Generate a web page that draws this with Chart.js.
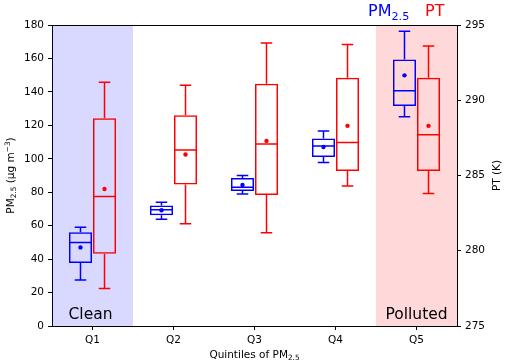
<!DOCTYPE html>
<html>
<head>
<meta charset="utf-8">
<script src="https://cdn.jsdelivr.net/npm/chart.js@4.4.1/dist/chart.umd.min.js"></script>
<style>
  body { margin: 0; background: #fff; }
  canvas { display: block; }
</style>
</head>
<body>
<canvas id="boxChart" width="505" height="363"></canvas>
<script>
// Quintile categories
const quintiles = ['Q1', 'Q2', 'Q3', 'Q4', 'Q5'];

// PM2.5 box stats (ug m-3, left axis)
const pmMin  = [27.5, 63.8, 79.0, 97.7, 125.2];
const pmQ1   = [37.7, 66.2, 80.7, 101.1, 131.6];
const pmMed  = [50.0, 69.5, 83.0, 107.7, 140.7];
const pmQ3   = [56.0, 72.0, 88.5, 112.2, 159.3];
const pmMax  = [59.0, 74.0, 90.0, 116.6, 176.2];
const pmMean = [47.0, 69.2, 84.3, 107.0, 149.9];

// PT box stats (K, right axis)
const ptMin  = [277.5, 281.8, 281.2, 284.3, 283.8];
const ptQ1   = [279.8, 284.4, 283.7, 285.3, 285.3];
const ptMed  = [283.6, 286.7, 287.1, 287.2, 287.7];
const ptQ3   = [288.8, 289.0, 291.1, 291.5, 291.5];
const ptMax  = [291.2, 291.0, 293.8, 293.7, 293.6];
const ptMean = [284.1, 286.4, 287.3, 288.3, 288.3];

// Axis ticks
const pmTicks = [0, 180, 20];
const ptTicks = [275, 295, 5];

const FONT = 'DejaVu Sans';

// draws text with sub/superscript parts
function drawRich(ctx, parts, x, y, size, color, align) {
    const small = size * 0.7;
    let total = 0;
    parts.forEach(p => {
        ctx.font = (p[1] === 'n' ? size : small) + 'px "' + FONT + '"';
        total += ctx.measureText(p[0]).width;
    });
    let cx = align === 'center' ? x - total / 2 : (align === 'right' ? x - total : x);
    ctx.fillStyle = color;
    ctx.textAlign = 'left';
    ctx.textBaseline = 'alphabetic';
    parts.forEach(p => {
        let dy = 0;
        if (p[1] === 'sub') dy = size * 0.22;
        if (p[1] === 'sup') dy = -size * 0.38;
        ctx.font = (p[1] === 'n' ? size : small) + 'px "' + FONT + '"';
        ctx.fillText(p[0], cx, y + dy);
        cx += ctx.measureText(p[0]).width;
    });
}

const boxExtras = {
    id: 'boxExtras',
    beforeDatasetsDraw(chart) {
        const { ctx, chartArea, scales } = chart;
        const x = scales.x;
        const half = (x.getPixelForValue(1) - x.getPixelForValue(0)) / 2;
        ctx.save();
        ctx.fillStyle = 'rgba(0, 0, 255, 0.15)';
        const cleanRight = x.getPixelForValue(0) + half;
        ctx.fillRect(chartArea.left, chartArea.top, cleanRight - chartArea.left, chartArea.bottom - chartArea.top);
        ctx.fillStyle = 'rgba(255, 0, 0, 0.15)';
        const polLeft = x.getPixelForValue(4) - half;
        ctx.fillRect(polLeft, chartArea.top, chartArea.right - polLeft, chartArea.bottom - chartArea.top);
        ctx.restore();
    },
    afterDatasetsDraw(chart) {
        const { ctx } = chart;
        chart.data.datasets.forEach((ds, di) => {
            const meta = chart.getDatasetMeta(di);
            const ys = chart.scales[ds.yAxisID];
            ctx.save();
            ctx.strokeStyle = ds.borderColor;
            ctx.fillStyle = ds.borderColor;
            ctx.lineWidth = 1.5;
            meta.data.forEach((bar, i) => {
                const cx = bar.x;
                const w = bar.width;
                const yMin = ys.getPixelForValue(ds.stats.min[i]);
                const yMax = ys.getPixelForValue(ds.stats.max[i]);
                const yQ1 = ys.getPixelForValue(ds.stats.q1[i]);
                const yQ3 = ys.getPixelForValue(ds.stats.q3[i]);
                const yMed = ys.getPixelForValue(ds.stats.med[i]);
                const yMean = ys.getPixelForValue(ds.stats.mean[i]);
                ctx.beginPath();
                // whiskers
                ctx.moveTo(cx, yQ3); ctx.lineTo(cx, yMax);
                ctx.moveTo(cx, yQ1); ctx.lineTo(cx, yMin);
                // caps
                ctx.moveTo(cx - w / 4, yMax); ctx.lineTo(cx + w / 4, yMax);
                ctx.moveTo(cx - w / 4, yMin); ctx.lineTo(cx + w / 4, yMin);
                // median
                ctx.moveTo(cx - w / 2, yMed); ctx.lineTo(cx + w / 2, yMed);
                ctx.stroke();
                // mean
                ctx.beginPath();
                ctx.arc(cx, yMean, 2.2, 0, Math.PI * 2);
                ctx.fill();
            });
            ctx.restore();
        });
    },
    afterDraw(chart) {
        const { ctx, chartArea, scales } = chart;
        const x = scales.x;
        ctx.save();
        // top spine
        ctx.strokeStyle = '#000';
        ctx.lineWidth = 1;
        ctx.beginPath();
        ctx.moveTo(chartArea.left, chartArea.top + 0.5);
        ctx.lineTo(chartArea.right, chartArea.top + 0.5);
        ctx.stroke();

        // region labels
        ctx.font = '15.5px "' + FONT + '"';
        ctx.fillStyle = '#000';
        ctx.textAlign = 'center';
        ctx.textBaseline = 'alphabetic';
        ctx.fillText('Clean', x.getPixelForValue(0) - 2, chartArea.bottom - 7);
        ctx.fillText('Polluted', x.getPixelForValue(4), chartArea.bottom - 7);

        // series labels above the plot
        drawRich(ctx, [['PM', 'n'], ['2.5', 'sub']], 368, 16, 16, '#0000ff', 'left');
        drawRich(ctx, [['PT', 'n']], 425, 16, 16, '#ff0000', 'left');

        // x title
        drawRich(ctx, [['Quintiles of PM', 'n'], ['2.5', 'sub']], (chartArea.left + chartArea.right) / 2, 358, 10.5, '#000', 'center');

        // left y title
        const midY = (chartArea.top + chartArea.bottom) / 2;
        ctx.save();
        ctx.translate(14, midY);
        ctx.rotate(-Math.PI / 2);
        drawRich(ctx, [['PM', 'n'], ['2.5', 'sub'], [' (\u03bcg m', 'n'], ['\u22123', 'sup'], [')', 'n']], 0, 0, 10.5, '#000', 'center');
        ctx.restore();

        // right y title
        ctx.save();
        ctx.translate(500, midY);
        ctx.rotate(-Math.PI / 2);
        drawRich(ctx, [['PT (K)', 'n']], 0, 0, 10.5, '#000', 'center');
        ctx.restore();
        ctx.restore();
    }
};

const tickFont = { family: FONT, size: 10.5 };
Chart.defaults.color = '#000';

const ctx = document.getElementById('boxChart');
new Chart(ctx, {
    type: 'bar',
    data: {
        labels: quintiles,
        datasets: [{
            label: 'PM2.5',
            data: quintiles.map((q, i) => [pmQ1[i], pmQ3[i]]),
            stats: { min: pmMin, q1: pmQ1, med: pmMed, q3: pmQ3, max: pmMax, mean: pmMean },
            yAxisID: 'y',
            borderColor: '#0000ff',
            backgroundColor: 'rgba(0, 0, 0, 0)',
            borderWidth: 1.5,
            borderSkipped: false
        }, {
            label: 'PT',
            data: quintiles.map((q, i) => [ptQ1[i], ptQ3[i]]),
            stats: { min: ptMin, q1: ptQ1, med: ptMed, q3: ptQ3, max: ptMax, mean: ptMean },
            yAxisID: 'y2',
            borderColor: '#ff0000',
            backgroundColor: 'rgba(0, 0, 0, 0)',
            borderWidth: 1.5,
            borderSkipped: false
        }]
    },
    options: {
        responsive: false,
        animation: false,
        events: [],
        categoryPercentage: 0.593,
        barPercentage: 0.96,
        layout: { padding: { top: 25, left: 0, right: 0, bottom: 0 } },
        plugins: {
            legend: { display: false },
            tooltip: { enabled: false }
        },
        scales: {
            x: {
                grid: { display: true, drawOnChartArea: false, offset: false, tickLength: 4, color: '#000' },
                border: { display: true, color: '#000', width: 1 },
                ticks: { font: tickFont, padding: 4, color: '#000' },
                afterFit(s) { s.height = 37; }
            },
            y: {
                position: 'left',
                min: pmTicks[0],
                max: pmTicks[1],
                grid: { display: true, drawOnChartArea: false, tickLength: 4, color: '#000' },
                border: { display: true, color: '#000', width: 1 },
                ticks: { stepSize: pmTicks[2], font: tickFont, padding: 4, color: '#000' },
                afterFit(s) { s.width = 52; }
            },
            y2: {
                position: 'right',
                min: ptTicks[0],
                max: ptTicks[1],
                grid: { display: true, drawOnChartArea: false, tickLength: 4, color: '#000' },
                border: { display: true, color: '#000', width: 1 },
                ticks: { stepSize: ptTicks[2], font: tickFont, padding: 4, color: '#000' },
                afterFit(s) { s.width = 48; }
            }
        }
    },
    plugins: [boxExtras]
});
</script>
</body>
</html>
